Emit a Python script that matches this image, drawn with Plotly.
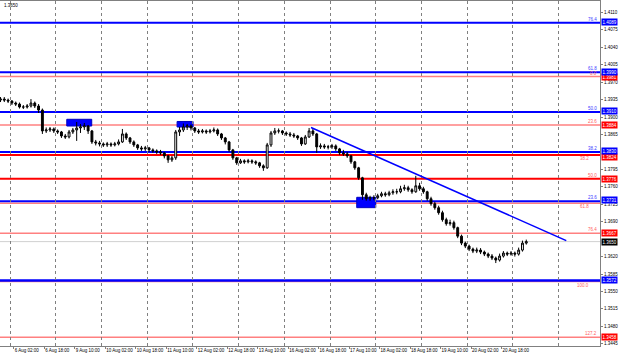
import plotly.graph_objects as go

# ---------------- data ----------------
first_open = 1.3934
closes = [1.3936, 1.3934, 1.3932, 1.3928, 1.3926, 1.3920, 1.3920, 1.3922, 1.3928, 1.3922,
          1.3914, 1.3872, 1.3874, 1.3876, 1.3872, 1.3870, 1.3862, 1.3860, 1.3870, 1.3874,
          1.3878, 1.3880, 1.3882, 1.3872, 1.3850, 1.3848, 1.3846, 1.3844, 1.3846, 1.3844,
          1.3846, 1.3850, 1.3866, 1.3858, 1.3850, 1.3844, 1.3838, 1.3836, 1.3838, 1.3834,
          1.3832, 1.3830, 1.3828, 1.3822, 1.3814, 1.3818, 1.3870, 1.3874, 1.3880, 1.3882,
          1.3878, 1.3872, 1.3870, 1.3872, 1.3870, 1.3872, 1.3874, 1.3866, 1.3858, 1.3850,
          1.3834, 1.3818, 1.3808, 1.3812, 1.3810, 1.3812, 1.3810, 1.3808, 1.3802, 1.3798,
          1.3844, 1.3868, 1.3872, 1.3872, 1.3868, 1.3866, 1.3864, 1.3862, 1.3858, 1.3846,
          1.3860, 1.3872, 1.3866, 1.3840, 1.3842, 1.3840, 1.3840, 1.3842, 1.3836, 1.3828,
          1.3826, 1.3822, 1.3810, 1.3798, 1.3778, 1.3744, 1.3736, 1.3738, 1.3738, 1.3742,
          1.3746, 1.3744, 1.3748, 1.3750, 1.3750, 1.3756, 1.3758, 1.3754, 1.3750, 1.3762,
          1.3756, 1.3750, 1.3736, 1.3726, 1.3718, 1.3708, 1.3694, 1.3686, 1.3688, 1.3678,
          1.3661, 1.3647, 1.3641, 1.3635, 1.3631, 1.3633, 1.3629, 1.3625, 1.3621, 1.3617,
          1.3613, 1.3621, 1.3627, 1.3625, 1.3627, 1.3625, 1.3633, 1.3647, 1.3650]
highs = [1.3940, 1.3940, 1.3937, 1.3934, 1.3931, 1.3929, 1.3924, 1.3926, 1.3936, 1.3931,
         1.3926, 1.3917, 1.3879, 1.3880, 1.3879, 1.3875, 1.3872, 1.3866, 1.3874, 1.3878,
         1.3890, 1.3886, 1.3888, 1.3884, 1.3874, 1.3854, 1.3852, 1.3849, 1.3850, 1.3849,
         1.3850, 1.3855, 1.3876, 1.3869, 1.3860, 1.3853, 1.3846, 1.3842, 1.3842, 1.3840,
         1.3837, 1.3835, 1.3834, 1.3830, 1.3824, 1.3822, 1.3874, 1.3880, 1.3887, 1.3886,
         1.3885, 1.3880, 1.3876, 1.3876, 1.3875, 1.3876, 1.3879, 1.3877, 1.3868, 1.3860,
         1.3852, 1.3836, 1.3820, 1.3816, 1.3815, 1.3816, 1.3815, 1.3813, 1.3810, 1.3805,
         1.3848, 1.3872, 1.3878, 1.3877, 1.3874, 1.3871, 1.3870, 1.3868, 1.3864, 1.3860,
         1.3864, 1.3878, 1.3876, 1.3868, 1.3847, 1.3846, 1.3844, 1.3846, 1.3845, 1.3838,
         1.3834, 1.3830, 1.3824, 1.3812, 1.3800, 1.3780, 1.3748, 1.3742, 1.3743, 1.3746,
         1.3750, 1.3750, 1.3752, 1.3755, 1.3756, 1.3762, 1.3764, 1.3762, 1.3757, 1.3782,
         1.3768, 1.3760, 1.3752, 1.3740, 1.3730, 1.3722, 1.3712, 1.3698, 1.3694, 1.3692,
         1.3680, 1.3664, 1.3650, 1.3644, 1.3638, 1.3638, 1.3637, 1.3632, 1.3628, 1.3625,
         1.3620, 1.3626, 1.3631, 1.3630, 1.3631, 1.3630, 1.3638, 1.3652, 1.3654]
lows = [1.3930, 1.3930, 1.3928, 1.3924, 1.3922, 1.3917, 1.3916, 1.3917, 1.3919, 1.3918,
        1.3908, 1.3866, 1.3868, 1.3870, 1.3868, 1.3866, 1.3858, 1.3856, 1.3857, 1.3866,
        1.3852, 1.3868, 1.3874, 1.3866, 1.3846, 1.3843, 1.3841, 1.3840, 1.3840, 1.3840,
        1.3841, 1.3843, 1.3848, 1.3854, 1.3846, 1.3840, 1.3834, 1.3832, 1.3832, 1.3830,
        1.3828, 1.3826, 1.3824, 1.3817, 1.3808, 1.3810, 1.3814, 1.3862, 1.3870, 1.3874,
        1.3873, 1.3868, 1.3866, 1.3867, 1.3866, 1.3867, 1.3869, 1.3862, 1.3854, 1.3845,
        1.3830, 1.3814, 1.3804, 1.3806, 1.3806, 1.3807, 1.3806, 1.3804, 1.3798, 1.3792,
        1.3796, 1.3840, 1.3864, 1.3867, 1.3864, 1.3862, 1.3860, 1.3858, 1.3854, 1.3842,
        1.3844, 1.3858, 1.3862, 1.3828, 1.3836, 1.3836, 1.3835, 1.3836, 1.3832, 1.3824,
        1.3822, 1.3818, 1.3806, 1.3794, 1.3774, 1.3734, 1.3732, 1.3732, 1.3733, 1.3735,
        1.3739, 1.3740, 1.3741, 1.3744, 1.3745, 1.3747, 1.3752, 1.3750, 1.3746, 1.3748,
        1.3752, 1.3746, 1.3732, 1.3722, 1.3714, 1.3704, 1.3690, 1.3682, 1.3682, 1.3674,
        1.3657, 1.3643, 1.3637, 1.3631, 1.3627, 1.3627, 1.3625, 1.3621, 1.3617, 1.3613,
        1.3607, 1.3610, 1.3618, 1.3621, 1.3622, 1.3620, 1.3622, 1.3630, 1.3644]
first_bar_hour = -5      # 5 Aug 19:00 (trading-hour index, 0 = 6 Aug 00:00)
bar_step_hours = 2
current_price = 1.3650

# x tick labels (trading-hour index, text)
time_tick_hours = [-14, 2, 18, 34, 50, 66, 82, 98, 114, 130, 146, 162, 178, 194, 210, 226, 242, 258]
time_tick_text = ["5 Aug 10:00", "6 Aug 02:00", "6 Aug 18:00", "9 Aug 10:00", "10 Aug 02:00",
                  "10 Aug 18:00", "11 Aug 10:00", "12 Aug 02:00", "12 Aug 18:00", "13 Aug 10:00",
                  "16 Aug 02:00", "16 Aug 18:00", "17 Aug 10:00", "18 Aug 02:00", "18 Aug 18:00",
                  "19 Aug 10:00", "20 Aug 02:00", "20 Aug 18:00"]
# visible price scale labels (1.3830 and 1.3655 are hidden behind level boxes in the original)
price_ticks = [1.4110, 1.4075, 1.4040, 1.4005, 1.3970, 1.3935, 1.3900, 1.3865, 1.3795,
               1.3760, 1.3725, 1.3690, 1.3620, 1.3585, 1.3550, 1.3515, 1.3480, 1.3445]

# Fibonacci grid 1 (blue)
blue_fib_pct = ["0.0", "23.6", "38.2", "50.0", "61.8", "76.4"]
blue_fib_price = [1.3572, 1.3731, 1.3830, 1.3910, 1.3990, 1.4089]
# Fibonacci grid 2 (red)
red_fib_pct = ["0.0", "23.6", "38.2", "50.0", "61.8", "76.4", "100.0", "127.2"]
red_fib_price = [1.3981, 1.3884, 1.3824, 1.3776, 1.3727, 1.3667, 1.3570, 1.3458]
red_fib_strong = [False, False, True, True, False, False, False, False]

# trend line
trend_hours = [158, 292]
trend_prices = [1.3879, 1.3652]

# marked zones
zone_h0 = [29.8, 87.7, 182.0]
zone_h1 = [42.9, 96.1, 192.0]
zone_top = [1.38954, 1.38910, 1.37389]
zone_bottom = [1.38819, 1.38799, 1.37181]

# ---------------- figure ----------------
n = len(closes)
bar_hours = [first_bar_hour + bar_step_hours * i for i in range(n)]
opens = [first_open] + closes[:-1]

FONT = "Liberation Sans, Arial, sans-serif"
BLUE = "#0000ff"
RED = "#ff0000"
LRED = "#ff8080"

fig = go.Figure()

shapes = []
for a, b, t, btm in zip(zone_h0, zone_h1, zone_top, zone_bottom):
    shapes.append(dict(type="rect", xref="x", yref="y", x0=a, x1=b, y0=btm, y1=t,
                       fillcolor="#0000ff", line=dict(color="#0000c0", width=1), layer="below"))
shapes.append(dict(type="line", xref="paper", yref="y", x0=0, x1=1, y0=current_price, y1=current_price,
                   line=dict(color="#d0d0d0", width=1), layer="below"))
for p, strong in zip(red_fib_price, red_fib_strong):
    shapes.append(dict(type="line", xref="paper", yref="y", x0=0, x1=1, y0=p, y1=p,
                       line=dict(color=RED if strong else LRED, width=2 if strong else 1.5), layer="below"))
for p in blue_fib_price:
    shapes.append(dict(type="line", xref="paper", yref="y", x0=0, x1=1, y0=p, y1=p,
                       line=dict(color=BLUE, width=2 if p != blue_fib_price[0] else 2.5), layer="below"))

fig.add_trace(go.Candlestick(
    x=bar_hours, open=opens, high=highs, low=lows, close=closes,
    increasing=dict(line=dict(color="black", width=1), fillcolor="white"),
    decreasing=dict(line=dict(color="black", width=1), fillcolor="black"),
    whiskerwidth=0, showlegend=False, hoverinfo="skip"))

fig.add_trace(go.Scatter(x=trend_hours, y=trend_prices, mode="lines",
                         line=dict(color=BLUE, width=1.5), showlegend=False, hoverinfo="skip"))

annotations = []
fs = 4.5
for pct, p in zip(blue_fib_pct, blue_fib_price):
    if pct == "0.0":
        continue  # coincides with the red 100.0 level
    annotations.append(dict(xref="paper", yref="y", x=0.998, y=p, text=pct, showarrow=False,
                            xanchor="right", yanchor="bottom", yshift=-1,
                            font=dict(family=FONT, size=fs, color="#4040ff")))
for pct, p in zip(red_fib_pct, red_fib_price):
    near_blue = any(abs(p - b) < 0.0009 for b in blue_fib_price)
    annotations.append(dict(xref="paper", yref="y", x=0.998 if not near_blue else 0.985, y=p,
                            text=pct, showarrow=False,
                            xanchor="right", yanchor="top" if near_blue else "bottom",
                            yshift=1 if near_blue else -1,
                            font=dict(family=FONT, size=fs, color="#ff6060")))

def price_box(p, color, shift=0):
    return dict(xref="paper", yref="y", x=1.0, y=p, text=f"{p:.4f}", showarrow=False,
                xanchor="left", yanchor="middle", bgcolor=color, borderpad=0.5, xshift=1,
                yshift=shift, font=dict(family=FONT, size=fs, color="white"))
for p in red_fib_price:
    if p != 1.3570 and p != 1.3727:
        close_blue = any(abs(p - b) < 0.0007 for b in blue_fib_price)
        annotations.append(price_box(p, RED, -2 if close_blue else 0))
for p in blue_fib_price:
    annotations.append(price_box(p, BLUE, 1 if p != 1.3990 else 0.5))
annotations.append(price_box(current_price, "black"))
annotations.append(dict(xref="paper", yref="paper", x=0.003, y=1, text=f"{current_price:.4f}",
                        showarrow=False, xanchor="left", yanchor="top",
                        font=dict(family=FONT, size=fs, color="black")))

x0_px = -5.25
x1_px = 309.7
fig.update_layout(
    width=620, height=357,
    margin=dict(l=0, r=20, t=1, b=11, autoexpand=False),
    paper_bgcolor="white", plot_bgcolor="white",
    shapes=shapes, annotations=annotations,
    font=dict(family=FONT, size=fs, color="black"),
    xaxis=dict(range=[x0_px, x1_px], rangeslider=dict(visible=False),
               tickmode="array", tickvals=time_tick_hours, ticktext=time_tick_text,
               tickangle=0, automargin=False,
               ticks="outside", ticklen=2, tickcolor="#808080",
               ticklabelposition="outside right", ticklabelstandoff=0,
               showgrid=False, zeroline=False,
               showline=True, linecolor="#808080", linewidth=1, mirror=True,
               minor=dict(tickmode="linear", tick0=0, dtick=24, showgrid=True,
                          gridcolor="#808080", griddash="dot", gridwidth=1, ticks=""),
               tickfont=dict(family=FONT, size=fs, color="black")),
    yaxis=dict(side="right", range=[1.34406, 1.41327], automargin=False,
               tickmode="array", tickvals=price_ticks, ticktext=[f"{v:.4f}" for v in price_ticks],
               ticks="outside", ticklen=2, tickcolor="#808080",
               showgrid=False, zeroline=False,
               showline=True, linecolor="#808080", linewidth=1, mirror=True,
               tickfont=dict(family=FONT, size=fs, color="black")),
)

fig.write_html("out.html")
